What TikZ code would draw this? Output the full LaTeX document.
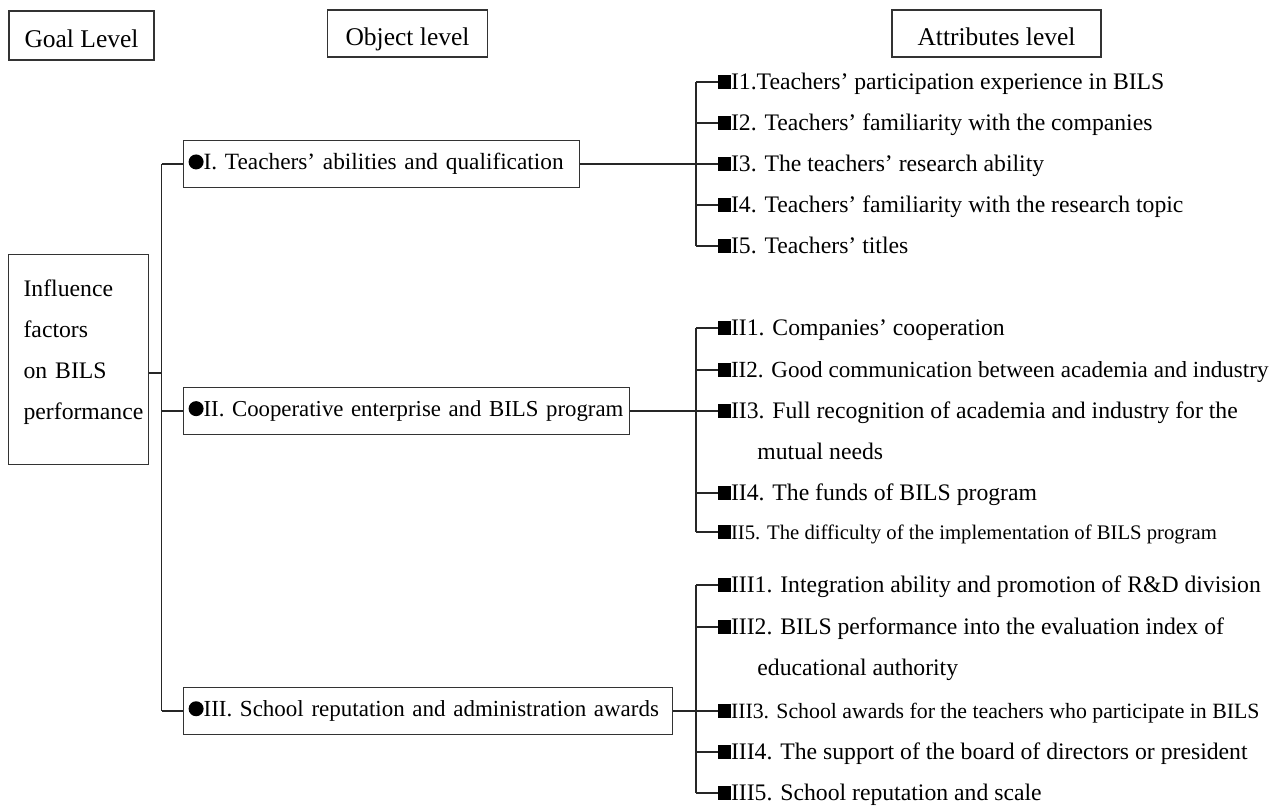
\documentclass[tikz,border=0pt]{standalone}
\usepackage{fontspec}
\setmainfont{Liberation Serif}

\newcommand{\sqmark}{\rule[0.2pt]{6.3pt}{6.6pt}}
\newcommand{\dotmark}{\tikz[baseline=0pt]\fill (3.75pt,3.9pt) circle (3.75pt);}

\tikzset{
  levelbox/.style={draw=black!80, line width=0.6pt, font=\fontsize{12.75}{15}\selectfont, text height=12pt, text depth=0pt},
  objbox/.style={draw=black!80, line width=0.6pt, anchor=west, align=left, inner xsep=2.5pt, inner ysep=0pt, minimum height=23.5pt},
  attr/.style={anchor=west, inner sep=0pt, text height=9pt, text depth=2pt},
  link/.style={black!85, line width=0.6pt},
}

\begin{document}
\begin{tikzpicture}[x=0.5pt,y=-0.5pt,font=\fontsize{11.85}{20.5}\selectfont]
	\useasboundingbox (0,0) rectangle (1283,805);
	
	% header row
	\node[levelbox, minimum width=72.5pt, minimum height=24.5pt] (goal) at (81.5,35.5) {Goal Level};
	\node[levelbox, minimum width=80pt, minimum height=23.5pt] (object) at (407.5,33.5) {Object level};
	\node[levelbox, minimum width=104.5pt, minimum height=23.5pt] (attrib) at (996.5,33.5) {Attributes level};
	
	% goal
	\node[draw=black!80, line width=0.6pt, anchor=north west, minimum height=105pt, inner xsep=7.5pt, text width=55pt, align=left] (inf) at (8,254) {Influence\\factors\\on BILS\\performance\\[-11pt]\mbox{}};
	
	% objects
	\node[objbox, text width=193pt, font=\fontsize{11.65}{20.5}\selectfont] (obj1) at (183,164) {\mbox{\dotmark I. Teachers’ abilities and qualification}};
	\node[objbox, text width=218pt, font=\fontsize{11.4}{20.5}\selectfont] (obj2) at (183,411) {\mbox{\dotmark II. Cooperative enterprise and BILS program}};
	\node[objbox, text width=239.5pt, font=\fontsize{11.5}{20.5}\selectfont] (obj3) at (183,711) {\mbox{\dotmark III. School reputation and administration awards}};
	
	% attributes
	\node[attr] (a1-1) at (718,82) {\sqmark I1.Teachers’ participation experience in BILS};
	\node[attr] (a1-2) at (718,123) {\sqmark I2. Teachers’ familiarity with the companies};
	\node[attr] (a1-3) at (718,164) {\sqmark I3. The teachers’ research ability};
	\node[attr] (a1-4) at (718,205) {\sqmark I4. Teachers’ familiarity with the research topic};
	\node[attr] (a1-5) at (718,246) {\sqmark I5. Teachers’ titles};
	
	\node[attr] (a2-1) at (718,328) {\sqmark II1. Companies’ cooperation};
	\node[attr, font=\fontsize{11.55}{20.5}\selectfont] (a2-2) at (718,370) {\sqmark II2. Good communication between academia and industry};
	\node[attr] (a2-3) at (718,411) {\sqmark II3. Full recognition of academia and industry for the};
	\node[attr] (a2-3b) at (757,452) {mutual needs};
	\node[attr] (a2-4) at (718,493) {\sqmark II4. The funds of BILS program};
	\node[attr, font=\fontsize{10.35}{20.5}\selectfont] (a2-5) at (718,532) {\sqmark II5. The difficulty of the implementation of BILS program};
	
	\node[attr] (a3-1) at (718,585) {\sqmark III1. Integration ability and promotion of R\&D division};
	\node[attr] (a3-2) at (718,627) {\sqmark III2. BILS performance into the evaluation index of};
	\node[attr] (a3-2b) at (757,668) {educational authority};
	\node[attr, font=\fontsize{10.9}{20.5}\selectfont] (a3-3) at (718,711) {\sqmark III3. School awards for the teachers who participate in BILS};
	\node[attr] (a3-4) at (718,752) {\sqmark III4. The support of the board of directors or president};
	\node[attr] (a3-5) at (718,793) {\sqmark III5. School reputation and scale};
	
	% connectors
	\coordinate (hub) at (161.5,373);
	\coordinate (bus) at (696,0);
	\draw[link] (hub -| inf.east) -- (hub);
	\draw[link] (obj1.west -| hub) -- (obj3.west -| hub);
	\foreach \k in {1,2,3}
		\draw[link] (obj\k.west -| hub) -- (obj\k.west);
	
	\foreach \k in {1,2,3} {
		\draw[link] (obj\k.east) -- (obj\k.east -| bus);
		\draw[link] (a\k-1.west -| bus) -- (a\k-5.west -| bus);
		\foreach \i in {1,...,5}
			\draw[link] (a\k-\i.west -| bus) -- (a\k-\i.west);
	}
\end{tikzpicture}
\end{document}
